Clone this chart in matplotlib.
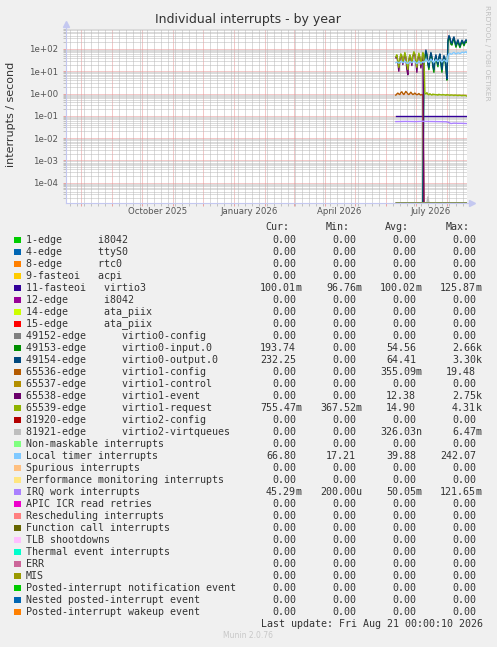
import numpy as np
import matplotlib
matplotlib.use("Agg")
import matplotlib.pyplot as plt
import matplotlib.dates as mdates
import matplotlib.ticker as mticker
from matplotlib.patches import Rectangle
from datetime import datetime

W, H = 497, 647

# --- finestra temporale del grafico "by year" (400 giorni) ---
t_start = datetime(2025, 7, 17)
t_end = datetime(2026, 8, 21)
data_start = datetime(2026, 6, 11)   # primo giorno con dati

# --- legenda ---
labels = [
    "1-edge      i8042", "4-edge      ttyS0", "8-edge      rtc0", "9-fasteoi   acpi",
    "11-fasteoi   virtio3", "12-edge      i8042", "14-edge      ata_piix", "15-edge      ata_piix",
    "49152-edge      virtio0-config", "49153-edge      virtio0-input.0",
    "49154-edge      virtio0-output.0", "65536-edge      virtio1-config",
    "65537-edge      virtio1-control", "65538-edge      virtio1-event",
    "65539-edge      virtio1-request", "81920-edge      virtio2-config",
    "81921-edge      virtio2-virtqueues", "Non-maskable interrupts", "Local timer interrupts",
    "Spurious interrupts", "Performance monitoring interrupts", "IRQ work interrupts",
    "APIC ICR read retries", "Rescheduling interrupts", "Function call interrupts",
    "TLB shootdowns", "Thermal event interrupts", "ERR", "MIS",
    "Posted-interrupt notification event", "Nested posted-interrupt event",
    "Posted-interrupt wakeup event",
]
colors = [
    "#00CC00", "#0066B3", "#FF8000", "#FFCC00", "#330099", "#990099", "#CCFF00", "#FF0000",
    "#808080", "#008F00", "#00487D", "#B35A00", "#B38F00", "#6B006B", "#8FB300", "#B30000",
    "#BEBEBE", "#80FF80", "#80C9FF", "#FFC080", "#FFE680", "#AA80FF", "#EE00CC", "#FF8080",
    "#666600", "#FFBFFF", "#00FFCC", "#CC6699", "#999900", "#00CC00", "#0066B3", "#FF8000",
]
z = "0.00"
cur = [z, z, z, z, "100.01m", z, z, z, z, "193.74", "232.25", z, z, z, "755.47m", z,
       z, z, "66.80", z, z, "45.29m", z, z, z, z, z, z, z, z, z, z]
vmin = [z, z, z, z, "96.76m", z, z, z, z, z, z, z, z, z, "367.52m", z,
        z, z, "17.21", z, z, "200.00u", z, z, z, z, z, z, z, z, z, z]
vavg = [z, z, z, z, "100.02m", z, z, z, z, "54.56", "64.41", "355.09m", z, "12.38", "14.90", z,
        "326.03n", z, "39.88", z, z, "50.05m", z, z, z, z, z, z, z, z, z, z]
vmax = [z, z, z, z, "125.87m", z, z, z, z, "2.66k", "3.30k", "19.48", z, "2.75k", "4.31k", z,
        "6.47m", z, "242.07", z, z, "121.65m", z, z, z, z, z, z, z, z, z, z]

# --- serie giornaliere (giorno 0 = 2026-06-11), interrupts / secondo ---
# 65539 virtio1-request
request1 = [45, 55, 30, 15, 35, 60, 50, 25, 40, 70, 45, 20, 12, 35, 55, 40, 25, 50, 75, 60,
            30, 15, 40, 65, 45, 20, 35, 70, 55,
            1.05, 0.95, 1.10, 0.92, 0.88, 0.98, 0.90, 0.85, 0.95, 0.88,
            0.92, 0.86, 0.90, 0.84, 0.93, 0.87, 0.89, 0.85, 0.91, 0.86,
            0.88, 0.83, 0.90, 0.85, 0.87, 0.82, 0.88, 0.84, 0.86, 0.81,
            0.87, 0.83, 0.85, 0.80, 0.86, 0.82, 0.84, 0.79, 0.85, 0.81,
            0.83, 0.80, 0.76]
# 65538 virtio1-event (poi zero)
event1 = [40, 50, 25, 10, 30, 55, 45, 20, 35, 60, 40, 12, 7, 30, 50, 35, 18, 45, 65, 55,
          25, 9, 35, 55, 40, 14, 30, 60, 0.0]
# 65536 virtio1-config (poi zero)
config1 = [0.85, 0.95, 1.05, 0.95, 0.90, 1.10, 1.20, 1.00, 0.90, 1.05,
           1.25, 1.10, 0.95, 0.90, 1.00, 1.15, 1.00, 0.90, 0.95, 1.05,
           0.95, 0.88, 0.92, 1.00, 0.90, 0.85, 0.90, 0.88, 0.0]
# 49154 / 49153 virtio0, dal giorno 27
virtio0_from = 27
output0 = [0.0, 22, 45, 90, 60, 25, 15, 40, 70, 45, 18, 12, 35, 55, 30, 20, 45, 60, 25, 12, 30,
           50, 40, 15, 4.5,
           250, 400, 320, 200, 180, 280, 350, 220, 150, 200,
           260, 180, 140, 190, 250, 210, 170, 220, 260, 232]
input0 = [0.0, 18, 38, 75, 50, 20, 12, 34, 60, 38, 15, 9, 30, 46, 25, 16, 38, 50, 20, 9, 25,
          42, 34, 12, 4.0,
          200, 340, 270, 160, 150, 230, 300, 180, 120, 165,
          215, 150, 115, 160, 210, 175, 140, 185, 215, 194]
# Local timer interrupts
timer = [24, 26, 25, 23, 25, 28, 27, 24, 25, 28, 26, 23, 22, 25, 27, 26, 24, 26, 29, 27,
         24, 22, 25, 28, 26, 23, 25, 27,
         25, 28, 35, 32, 27, 25, 30, 35, 31, 27, 25, 29, 33, 30, 27, 31, 34, 29, 26, 29,
         33, 31, 28, 26,
         50, 60, 64, 58, 60, 66, 70, 64, 60, 63, 68, 65, 62, 66, 72, 70, 67, 72, 75, 66.8]
# serie quasi piatte: giorni campionati + valori
irqwork_days = [0, 10, 20, 28, 29, 40, 50, 52, 53, 54, 55, 58, 62, 66, 71]
irqwork = [0.055, 0.056, 0.055, 0.057, 0.056, 0.055, 0.054, 0.052, 0.050, 0.047,
           0.045, 0.047, 0.046, 0.046, 0.045]
virtio3_days = [0, 71]
virtio3 = [0.100, 0.100]
virtq2_days = [0, 31, 32, 33, 71]
virtq2 = [0.0, 0.0, 2.3e-5, 0.0, 0.0]
flat_days = [0, 71]
flat_zero = [0.0, 0.0]


def daily(vals, start=0):
    return list(range(start, start + len(vals))), vals


series = {i: (flat_days, flat_zero) for i in range(len(labels))}
series[4] = (virtio3_days, virtio3)
series[9] = daily(input0, virtio0_from)
series[10] = daily(output0, virtio0_from)
d, v = daily(config1)
series[11] = (d + [71], v + [0.0])
d, v = daily(event1)
series[13] = (d + [71], v + [0.0])
series[14] = daily(request1)
series[16] = (virtq2_days, virtq2)
series[18] = daily(timer)
series[21] = (irqwork_days, irqwork)

# --- figura ---
bg = "#F0F0F0"
txt = "#333333"
axis_col = "#C4C8F0"
mgrid = "#E89494"
ngrid = "#B8B8B8"

fig = plt.figure(figsize=(W / 100, H / 100), dpi=100, facecolor=bg)

# overlay in pixel per testi e legenda
ov = fig.add_axes([0, 0, 1, 1], zorder=-1)
ov.set_xlim(0, W)
ov.set_ylim(H, 0)
ov.axis("off")

top_px, bot_px, left_px, right_px = 28.7, 202.7, 66, 467
ax = fig.add_axes([left_px / W, 1 - bot_px / H, (right_px - left_px) / W, (bot_px - top_px) / H])
ax.set_facecolor("white")
ax.set_yscale("log")
ylo, yhi = 10 ** -4.9, 10 ** 2.91
ax.set_ylim(ylo, yhi)
x0 = mdates.date2num(t_start)
ax.set_xlim(x0, mdates.date2num(t_end))

ax.yaxis.set_major_locator(mticker.LogLocator(base=10, numticks=20))
ax.yaxis.set_minor_locator(mticker.LogLocator(base=10, subs=range(2, 10), numticks=20))
ax.yaxis.set_major_formatter(mticker.FuncFormatter(lambda v, p: f"{v:.0e}"))
ax.yaxis.set_minor_formatter(mticker.NullFormatter())
ax.xaxis.set_major_locator(mdates.MonthLocator())
ax.xaxis.set_minor_locator(mdates.WeekdayLocator(byweekday=mdates.MO))
ax.xaxis.set_major_formatter(mticker.NullFormatter())

ax.grid(which="minor", color=ngrid, ls=(0, (1, 1)), lw=0.72, zorder=0)
ax.grid(which="major", color=mgrid, ls=(0, (1, 1)), lw=0.72, zorder=0)
ax.set_axisbelow(True)

for s in ("top", "right"):
    ax.spines[s].set_visible(False)
for s in ("left", "bottom"):
    ax.spines[s].set_color(axis_col)
    ax.spines[s].set_linewidth(0.8)
ax.tick_params(which="major", length=2, width=0.6, color=mgrid, direction="out")
ax.tick_params(which="minor", length=2, width=0.6, color=ngrid, direction="out")
ax.tick_params(axis="y", labelsize=6.2, labelcolor="#555555", pad=4)

# frecce degli assi
ax.plot([0, 0], [1, 1.02], color=axis_col, lw=0.8, transform=ax.transAxes, clip_on=False)
ax.plot([0], [1.025], marker="^", ms=4, color=axis_col, transform=ax.transAxes, clip_on=False)
ax.plot([1, 1.008], [0, 0], color=axis_col, lw=0.8, transform=ax.transAxes, clip_on=False)
ax.plot([1.012], [0], marker=">", ms=4, color=axis_col, transform=ax.transAxes, clip_on=False)

# linee dati, nello stesso ordine della legenda
d0 = mdates.date2num(data_start)
for i in range(len(labels)):
    days, vals = series[i]
    xs = d0 + np.array(days, dtype=float)
    ys = np.maximum(np.array(vals, dtype=float), ylo)
    ax.plot(xs, ys, color=colors[i], lw=1.0, zorder=3)

# etichette mesi (centrate a metà mese)
for dt, lab in [(datetime(2025, 10, 16), "October 2025"), (datetime(2026, 1, 16), "January 2026"),
                (datetime(2026, 4, 16), "April 2026"), (datetime(2026, 7, 16), "July 2026")]:
    ax.text(mdates.date2num(dt), -(212 - bot_px) / (bot_px - top_px), lab,
            transform=ax.get_xaxis_transform(), ha="center", va="center",
            fontsize=6.2, color="#555555")

# titoli e scritte
ov.text(248, 19, "Individual interrupts - by year", ha="center", va="center", fontsize=9, color=txt)
ov.text(11, 114, "interrupts / second", ha="center", va="center", rotation=90, fontsize=8, color=txt)
ov.text(487, 53, "RRDTOOL / TOBI OETIKER", ha="center", va="center", rotation=270,
        fontsize=5.4, color="#C0C0C0")

# --- tabella legenda ---
mono = "DejaVu Sans Mono"
fs = 7.2
for x, h in zip([289.3, 349.3, 409.3, 470], ["Cur:", "Min:", "Avg:", "Max:"]):
    ov.text(x, 227.3, h, ha="right", va="center", family=mono, fontsize=fs, color=txt)

col_x = [296, 356, 416, 476]
for i, lab in enumerate(labels):
    y = 239.7 + 12 * i
    ov.add_patch(Rectangle((14, y - 3), 6.5, 6, facecolor=colors[i], lw=0))
    ov.text(26, y, lab, ha="left", va="center", family=mono, fontsize=fs, color=txt)
    for x, s in zip(col_x, (cur[i], vmin[i], vavg[i], vmax[i])):
        if s[-1].isalpha():
            num, unit = s[:-1], s[-1]
        else:
            num, unit = s, ""
        ov.text(x, y, num, ha="right", va="center", family=mono, fontsize=fs, color=txt)
        if unit:
            ov.text(x, y, unit, ha="left", va="center", family=mono, fontsize=fs, color=txt)

ov.text(482.7, 623.7, "Last update: Fri Aug 21 00:00:10 2026", ha="right", va="center",
        family=mono, fontsize=fs, color=txt)
ov.text(248, 636, "Munin 2.0.76", ha="center", va="center", fontsize=5.5, color="#C8C8C8")

fig.savefig("out.png", dpi=100, facecolor=bg)
